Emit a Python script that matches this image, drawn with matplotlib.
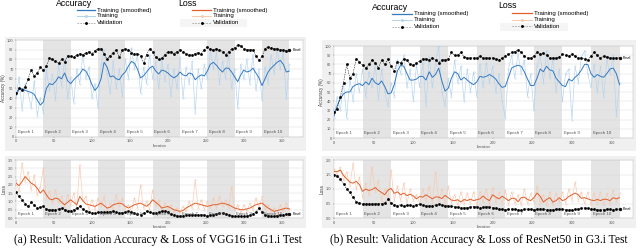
import numpy as np
import matplotlib
matplotlib.use("Agg")
import matplotlib.pyplot as plt
from matplotlib.patches import Rectangle
from matplotlib.lines import Line2D

# iteration grid (one value every 4 iterations), 10 epochs of 36 iterations
iters = np.arange(0, 361, 4)
epoch_len = 36
n_epochs = 10

# ---- (a) VGG16, G1.i ----
a_acc_val = [45, 50, 48, 52, 60, 69, 63, 66, 72, 69,
             73, 81, 80, 78, 76, 80, 77, 84, 83, 82,
             85, 86, 85, 87, 88, 86, 89, 91, 91, 86,
             80, 84, 87, 90, 82, 90, 91, 90, 87, 86,
             86, 84, 76, 85, 91, 88, 82, 80, 81, 85,
             88, 88, 86, 88, 90, 88, 86, 85, 85, 86,
             87, 86, 90, 93, 91, 90, 91, 90, 88, 85,
             88, 91, 92, 95, 94, 91, 90, 90, 90, 84,
             79, 83, 91, 93, 92, 91, 91, 90, 90, 89,
             90]
a_acc_smooth = [43, 49, 50, 48, 47, 46, 44, 38, 33, 36,
                50, 55, 54, 57, 62, 60, 66, 58, 55, 59,
                62, 65, 70, 68, 62, 54, 48, 52, 60, 77,
                72, 62, 63, 60, 59, 64, 67, 73, 78, 76,
                70, 61, 63, 67, 71, 73, 68, 65, 69, 68,
                66, 63, 61, 63, 67, 64, 63, 66, 65, 59,
                62, 64, 63, 68, 75, 77, 74, 70, 67, 71,
                71, 67, 62, 57, 64, 69, 67, 68, 71, 66,
                61, 53, 60, 67, 71, 74, 77, 79, 75, 67,
                68]
a_acc_raw = [40, 62, 28, 55, 45, 30, 58, 22, 40, 25,
             70, 48, 65, 38, 75, 52, 80, 40, 62, 35,
             70, 55, 85, 60, 72, 40, 55, 30, 75, 90,
             65, 45, 78, 50, 70, 42, 80, 60, 92, 70,
             85, 45, 72, 55, 85, 60, 78, 50, 80, 58,
             75, 42, 70, 50, 82, 40, 72, 55, 78, 25,
             70, 50, 75, 60, 90, 70, 88, 55, 78, 60,
             85, 50, 70, 30, 75, 60, 80, 55, 85, 48,
             70, 38, 72, 55, 85, 65, 92, 70, 88, 40,
             75]
a_loss_smooth = [2.1, 1.95, 2.2, 2.5, 2.3, 2.1, 2.0, 1.8, 1.5, 1.7,
                 1.4, 1.15, 1.1, 1.2, 1.15, 0.95, 0.8, 0.95, 1.1, 0.95,
                 0.8, 1.3, 1.05, 0.85, 0.8, 0.75, 0.7, 0.8, 0.9, 0.75,
                 0.6, 0.65, 0.8, 0.85, 0.9, 0.85, 0.7, 0.6, 0.7, 0.8,
                 0.85, 0.9, 0.8, 0.7, 0.85, 1.1, 0.95, 0.8, 0.6, 0.65,
                 0.7, 0.6, 0.5, 0.45, 0.4, 0.45, 0.6, 0.7, 0.8, 0.9,
                 0.85, 0.8, 0.75, 0.7, 0.75, 0.8, 0.8, 0.85, 0.9, 0.85,
                 0.8, 0.7, 0.6, 0.55, 0.5, 0.5, 0.55, 0.6, 0.7, 0.8,
                 0.85, 0.9, 0.75, 0.6, 0.5, 0.4, 0.45, 0.5, 0.55, 0.6,
                 0.55]
a_loss_raw = [2.3, 1.6, 3.3, 2.2, 2.8, 1.7, 2.6, 1.4, 1.9, 3.0,
              1.2, 1.6, 0.9, 1.7, 0.9, 1.3, 0.6, 1.4, 0.8, 1.5,
              0.6, 3.2, 1.0, 1.3, 0.5, 1.1, 0.5, 1.2, 0.7, 1.3,
              0.4, 0.9, 0.5, 1.4, 0.7, 1.2, 0.5, 0.8, 0.4, 1.2,
              0.6, 2.0, 0.6, 1.0, 0.5, 1.7, 0.7, 1.1, 0.4, 0.9,
              0.5, 0.8, 0.3, 0.6, 0.3, 0.7, 0.4, 1.0, 0.6, 2.3,
              0.6, 1.1, 0.5, 1.0, 0.6, 1.2, 0.6, 1.3, 0.7, 1.1,
              0.6, 1.9, 0.4, 0.8, 0.3, 0.8, 0.4, 0.9, 0.5, 1.2,
              0.6, 1.3, 0.5, 0.8, 0.3, 0.6, 0.3, 0.8, 0.4, 0.9,
              0.5]
a_loss_val = [1.55, 1.3, 1.1, 0.85, 0.7, 0.95, 0.8, 0.6, 0.65, 0.7,
              0.55, 0.5, 0.5, 0.5, 0.55, 0.6, 0.5, 0.4, 0.45, 0.5,
              0.6, 0.7, 0.55, 0.4, 0.35, 0.3, 0.3, 0.35, 0.35, 0.35,
              0.36, 0.38, 0.4, 0.35, 0.3, 0.32, 0.35, 0.4, 0.35, 0.3,
              0.25, 0.2, 0.3, 0.4, 0.35, 0.3, 0.3, 0.35, 0.4, 0.45,
              0.35, 0.25, 0.2, 0.15, 0.1, 0.15, 0.2, 0.2, 0.2, 0.2,
              0.2, 0.2, 0.18, 0.15, 0.18, 0.2, 0.22, 0.28, 0.3, 0.25,
              0.2, 0.15, 0.1, 0.1, 0.1, 0.1, 0.12, 0.18, 0.25, 0.35,
              0.6, 0.35, 0.2, 0.15, 0.1, 0.1, 0.15, 0.18, 0.2, 0.22,
              0.26]

# ---- (b) ResNet50, G3.i ----
b_acc_val = [28, 32, 45, 60, 80, 65, 70, 86, 83, 79,
             76, 80, 85, 82, 76, 85, 80, 86, 78, 73,
             83, 82, 86, 85, 80, 79, 81, 84, 86, 86,
             85, 87, 85, 82, 85, 85, 86, 93, 90, 90,
             93, 88, 87, 87, 87, 87, 89, 87, 87, 87,
             87, 86, 85, 87, 89, 91, 93, 94, 96, 93,
             89, 87, 87, 89, 93, 91, 92, 90, 87, 87,
             87, 88, 91, 90, 89, 91, 89, 87, 87, 86,
             85, 89, 93, 90, 87, 89, 88, 87, 87, 87,
             87]
b_acc_smooth = [24, 35, 43, 48, 50, 50, 56, 58, 59, 57,
                61, 58, 65, 60, 58, 62, 56, 48, 49, 58,
                73, 79, 78, 70, 63, 63, 64, 67, 67, 63,
                72, 66, 69, 76, 62, 51, 54, 65, 72, 70,
                63, 66, 63, 60, 58, 61, 67, 66, 67, 69,
                67, 64, 59, 55, 56, 66, 76, 78, 79, 78,
                72, 64, 57, 57, 65, 75, 72, 78, 74, 73,
                65, 61, 57, 56, 64, 62, 66, 69, 74, 80,
                80, 70, 66, 69, 67, 66, 70, 75, 76, 70,
                58]
b_acc_raw = [22, 45, 30, 60, 22, 65, 40, 70, 50, 75,
             45, 72, 55, 80, 42, 75, 50, 35, 60, 45,
             85, 70, 90, 55, 75, 40, 80, 55, 82, 35,
             88, 55, 80, 100, 50, 35, 65, 45, 85, 60,
             78, 40, 75, 50, 72, 45, 80, 55, 82, 60,
             78, 50, 70, 40, 22, 75, 90, 65, 92, 70,
             85, 45, 70, 30, 78, 90, 60, 95, 65, 85,
             50, 75, 40, 70, 75, 20, 78, 60, 88, 95,
             70, 55, 80, 50, 78, 45, 85, 70, 90, 24,
             60]
b_loss_smooth = [1.6, 1.6, 1.65, 1.47, 1.35, 1.24, 1.2, 1.27, 1.15, 0.92,
                 1.0, 0.95, 0.98, 1.05, 0.95, 0.88, 0.8, 0.96, 1.02, 0.85,
                 0.9, 0.8, 0.86, 0.77, 0.82, 0.76, 0.66, 0.74, 0.72, 0.8,
                 0.73, 0.66, 0.73, 0.72, 0.67, 0.78, 0.7, 0.62, 0.6, 0.63,
                 0.55, 0.64, 0.6, 0.65, 0.6, 0.63, 0.66, 0.76, 0.66, 0.6,
                 0.8, 0.72, 0.66, 0.75, 0.68, 0.6, 0.68, 0.68, 0.56, 0.7,
                 0.72, 0.64, 0.6, 0.7, 0.86, 0.75, 0.55, 0.64, 0.7, 0.55,
                 0.6, 0.7, 0.6, 0.64, 0.74, 0.8, 0.86, 0.8, 0.68, 0.7,
                 0.66, 0.62, 0.6, 0.64, 0.6, 0.65, 0.64, 0.6, 0.7, 0.66,
                 0.7]
b_loss_raw = [1.7, 1.5, 1.75, 1.3, 1.6, 1.1, 1.88, 1.0, 1.4, 0.7,
              1.2, 0.8, 1.76, 0.9, 1.3, 0.6, 1.0, 0.7, 1.65, 0.6,
              1.1, 0.6, 1.2, 0.5, 1.0, 0.6, 0.8, 0.5, 1.0, 0.6,
              1.1, 0.5, 1.6, 0.6, 1.0, 0.5, 1.1, 0.5, 0.8, 0.45,
              0.9, 0.5, 0.85, 0.5, 0.9, 0.45, 0.9, 0.55, 1.0, 0.45,
              1.05, 0.55, 0.9, 0.5, 0.95, 0.45, 0.9, 0.5, 0.8, 0.45,
              1.0, 0.5, 0.85, 0.55, 1.1, 0.5, 0.8, 0.45, 0.9, 0.45,
              0.85, 0.55, 0.9, 0.5, 1.0, 0.6, 1.24, 0.6, 0.9, 0.5,
              0.9, 0.45, 0.85, 0.5, 0.9, 0.45, 0.85, 0.5, 0.95, 0.55,
              0.85]
b_loss_val = [1.5, 1.45, 1.35, 1.18, 1.0, 0.88, 0.72, 0.56, 0.53, 0.48,
              0.5, 0.5, 0.48, 0.49, 0.5, 0.5, 0.52, 0.64, 0.52, 0.46,
              0.42, 0.46, 0.41, 0.44, 0.44, 0.43, 0.45, 0.47, 0.44, 0.41,
              0.42, 0.43, 0.45, 0.47, 0.45, 0.43, 0.42, 0.4, 0.39, 0.37,
              0.35, 0.35, 0.36, 0.38, 0.39, 0.39, 0.36, 0.37, 0.39, 0.37,
              0.35, 0.34, 0.31, 0.3, 0.29, 0.3, 0.31, 0.3, 0.28, 0.28,
              0.3, 0.31, 0.3, 0.29, 0.3, 0.31, 0.3, 0.29, 0.29, 0.29,
              0.3, 0.31, 0.3, 0.29, 0.29, 0.29, 0.3, 0.31, 0.33, 0.35,
              0.33, 0.31, 0.3, 0.28, 0.27, 0.29, 0.31, 0.3, 0.29, 0.3,
              0.31]

captions = ["(a) Result: Validation Accuracy & Loss of VGG16 in G1.i Test",
            "(b) Result: Validation Accuracy & Loss of ResNet50 in G3.i Test"]
entry_labels = ["Training (smoothed)", "Training", "Validation"]

BLUE = '#3479c2'
BLUE_LT = '#b3d3f0'
ORANGE = '#e2602a'
ORANGE_LT = '#f8c8ae'
BAND = '#e4e4e4'
FRAME = '#f0f0f0'

W, H = 640, 249
fig = plt.figure(figsize=(W / 100, H / 100), dpi=100)
plt.rcParams['font.family'] = ['Liberation Sans', 'DejaVu Sans']


def rect(l, t, r, b):
    # pixel box (top-left origin) -> figure fraction
    return [l / W, 1 - b / H, (r - l) / W, (b - t) / H]


def frame(l, t, r, b, color=FRAME):
    x, y, w, h = rect(l, t, r, b)
    fig.add_artist(Rectangle((x, y), w, h, transform=fig.transFigure,
                             facecolor=color, edgecolor='none', zorder=0))


def progress_axes(box, ylim, yticks, ylabel, xmax):
    ax = fig.add_axes(rect(*box))
    ax.set_facecolor('white')
    for k in range(n_epochs):
        if k % 2 == 1:
            ax.axvspan(k * epoch_len, (k + 1) * epoch_len, color=BAND, lw=0, zorder=0)
        ax.text(k * epoch_len + 2, ylim[0] + 0.03 * (ylim[1] - ylim[0]), 'Epoch %d' % (k + 1),
                fontsize=3.2, color='#555555', va='bottom', zorder=6)
    ax.set_xlim(0, xmax)
    ax.set_ylim(*ylim)
    ax.set_yticks(yticks)
    ax.set_xticks(range(0, 351, 50))
    ax.tick_params(labelsize=2.8, length=1, width=0.3, pad=0.8, colors='#555555')
    ax.grid(axis='y', color='#d6d6d6', lw=0.3)
    ax.set_axisbelow(True)
    for s in ax.spines.values():
        s.set_linewidth(0.3)
        s.set_color('#bbbbbb')
    ax.set_xlabel('Iteration', fontsize=2.8, labelpad=0.5, color='#555555')
    ax.set_ylabel(ylabel, fontsize=3.3, labelpad=1, color='#333333')
    return ax


def draw(ax, raw, smooth, val, dark, light):
    ax.plot(iters, raw, color=light, lw=0.45, marker='.', ms=0.6, zorder=2)
    ax.plot(iters, smooth, color=dark, lw=0.7, zorder=3)
    ax.plot(iters, val, color='black', lw=0.35, ls=(0, (3, 2)), marker='s', ms=0.9, zorder=4)
    ax.plot(iters[-1], val[-1], marker='o', ms=2.0, mfc='none', mec='black', mew=0.4, zorder=5)
    ax.text(iters[-1] + 4, val[-1], 'Final', fontsize=2.8, va='center', zorder=6)


def legend_block(title, tx, ty, x0, x1, rows, dark, light, bg=None):
    if bg is not None:
        frame(*bg, color='#f5f5f5')
    fig.text(tx / W, 1 - ty / H, title, fontsize=6.3, va='center', ha='left')
    styles = [dict(color=dark, lw=0.9),
              dict(color=light, lw=0.7),
              dict(color='#777777', lw=0.4, ls=(0, (3, 2)))]
    for y, lab, st in zip(rows, entry_labels, styles):
        fy = 1 - y / H
        fig.add_artist(Line2D([x0 / W, x1 / W], [fy, fy], transform=fig.transFigure, **st))
        if lab != entry_labels[0]:
            mc = light if lab == 'Training' else 'black'
            fig.add_artist(Line2D([(x0 + x1) / 2 / W], [fy], transform=fig.transFigure,
                                  marker='o', ms=1.1, color=mc, lw=0))
        fig.text((x1 + 2) / W, fy, lab, fontsize=4.4, va='center', ha='left')


# grey window frames behind the plots
frame(5, 37, 306, 151)
frame(5, 156, 306, 228)
frame(322, 40, 636, 151)
frame(322, 156, 636, 228)

acc_ticks = range(0, 101, 10)

ax = progress_axes((16, 40, 303, 137), (0, 100), acc_ticks, 'Accuracy (%)', 378)
draw(ax, a_acc_raw, a_acc_smooth, a_acc_val, BLUE, BLUE_LT)
ax = progress_axes((16, 160, 303, 218), (0, 3.5), np.arange(0, 3.51, 0.5), 'Loss', 378)
draw(ax, a_loss_raw, a_loss_smooth, a_loss_val, ORANGE, ORANGE_LT)

ax = progress_axes((334, 46, 633, 138), (0, 100), acc_ticks, 'Accuracy (%)', 377)
draw(ax, b_acc_raw, b_acc_smooth, b_acc_val, BLUE, BLUE_LT)
ax = progress_axes((334, 160, 633, 218), (0, 2), np.arange(0, 2.01, 0.5), 'Loss', 377)
draw(ax, b_loss_raw, b_loss_smooth, b_loss_val, ORANGE, ORANGE_LT)

# legends at the top
legend_block('Accuracy', 56, 4, 77, 95, [10, 16, 23], BLUE, BLUE_LT)
legend_block('Loss', 178, 4, 192, 211, [10, 16, 23], ORANGE, ORANGE_LT, bg=(180, 19, 247, 27))
legend_block('Accuracy', 372, 7, 392, 412, [14, 20, 27], BLUE, BLUE_LT)
legend_block('Loss', 498, 6, 512, 532, [13, 20, 26], ORANGE, ORANGE_LT, bg=(500, 23, 568, 31))

# captions
fig.text(158 / W, 1 - 240 / H, captions[0], ha='center', va='center', fontsize=8.3,
         family='Liberation Serif')
fig.text(479 / W, 1 - 240 / H, captions[1], ha='center', va='center', fontsize=8.3,
         family='Liberation Serif')

fig.savefig('out.png', dpi=100)
